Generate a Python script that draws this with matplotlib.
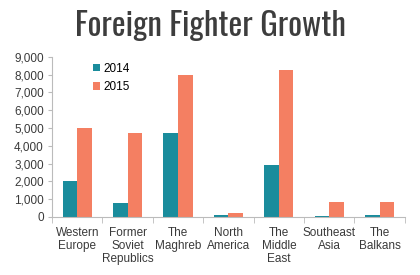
import numpy as np
import matplotlib
matplotlib.use("Agg")
import matplotlib.pyplot as plt

plt.rcParams["font.family"] = ["Liberation Sans", "DejaVu Sans"]

# -------------------------------
# Data
# -------------------------------
regions = ["Western\nEurope", "Former\nSoviet\nRepublics", "The\nMaghreb",
           "North\nAmerica", "The\nMiddle\nEast", "Southeast\nAsia", "The\nBalkans"]
fighters_2014 = [2000, 800, 4700, 100, 2900, 50, 100]
fighters_2015 = [5000, 4700, 8000, 250, 8240, 860, 860]
y_ticks = [0, 1000, 2000, 3000, 4000, 5000, 6000, 7000, 8000, 9000]

teal = "#1a8c9c"
salmon = "#f47f62"
grid_grey = "#bbbbbb"
text_grey = "#3a3a3a"

# -------------------------------
# Plot
# -------------------------------
fig = plt.figure(figsize=(4.2, 2.75), dpi=100)
ax = fig.add_axes([0.124, 0.211, 0.840, 0.582])

x = np.arange(len(regions))
w = 0.29
ax.bar(x - w / 2, fighters_2014, width=w, color=teal, label="2014")
ax.bar(x + w / 2, fighters_2015, width=w, color=salmon, label="2015")

ax.set_xlim(-0.5, len(regions) - 0.5)
ax.set_ylim(0, 9000)
ax.set_yticks(y_ticks)
ax.set_yticklabels([f"{v:,}" for v in y_ticks], fontsize=8.5, color=text_grey)

ax.set_xticks(x)
ax.set_xticklabels(regions, fontsize=8.5, color=text_grey, linespacing=1.15)
ax.tick_params(axis="x", length=0, pad=7)
ax.set_xticks(np.arange(-0.5, len(regions)), minor=True)
ax.tick_params(axis="x", which="minor", length=4, color=grid_grey)
ax.tick_params(axis="y", length=3, color=grid_grey, pad=3)

for side in ["top", "right"]:
    ax.spines[side].set_visible(False)
ax.spines["left"].set_color(grid_grey)
ax.spines["bottom"].set_color(grid_grey)

ax.legend(loc="upper left", bbox_to_anchor=(0.085, 1.03), frameon=False,
          fontsize=8.5, handlelength=0.6, handleheight=0.6, handletextpad=0.3,
          labelspacing=0.55)

fig.text(0.5, 0.905, "Foreign Fighter Growth", ha="center", va="center",
         fontsize=23.5, fontweight="semibold", color="#3d3d3d",
         family=["Oswald", "DejaVu Sans"])

fig.savefig("out.png", dpi=100)
